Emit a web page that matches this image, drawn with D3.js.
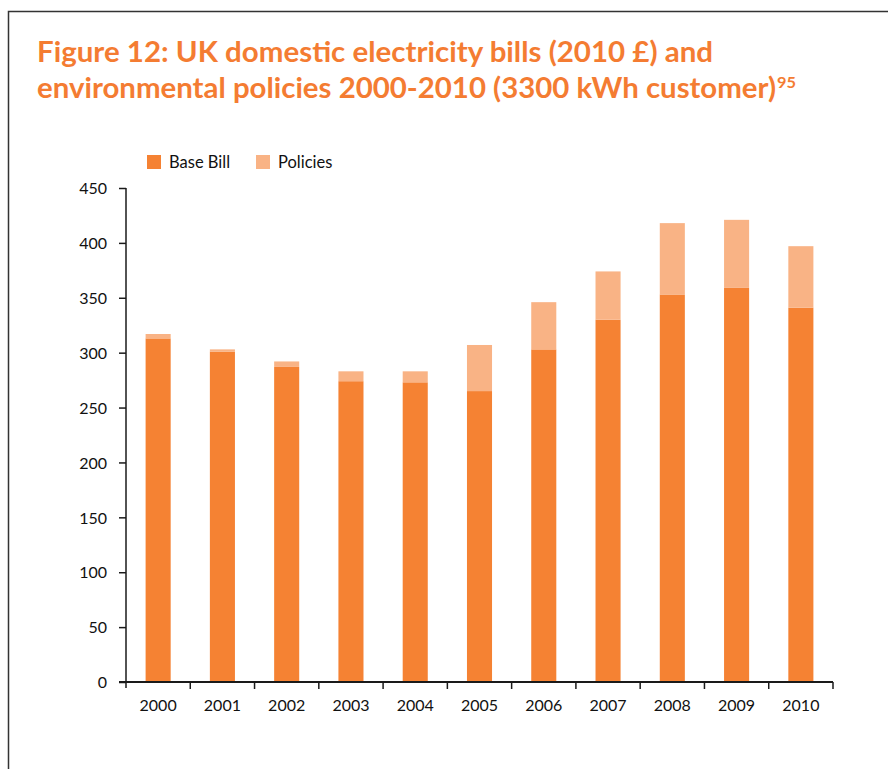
<!DOCTYPE html>
<html lang="en">
<head>
    <title>UK domestic electricity bills</title>
    <script src="https://d3js.org/d3.v7.min.js"></script>
</head>
<style type="text/css">
    body { margin: 0; background: #fff; }
    svg text { font-family: Lato, "Open Sans", sans-serif; fill: #111; }
    .title { font-weight: bold; fill: #f47c32; }
    .axis path, .axis line { stroke: #1a1a1a; }
</style>
<body>
<script>
    // data (2010 £)
    var years = ["2000", "2001", "2002", "2003", "2004", "2005", "2006", "2007", "2008", "2009", "2010"];
    var baseBill = [313, 301, 287, 274, 273, 265, 303, 330, 353, 359, 341];
    var policies = [4, 2, 5, 9, 10, 42, 43, 44, 65, 62, 56];
    var yTicks = [0, 50, 100, 150, 200, 250, 300, 350, 400, 450];

    var colBase = "#f58233";
    var colPolicy = "#f9b385";

    var width = 888, height = 769;

    var svg = d3.select("body").append("svg")
        .attr("width", width)
        .attr("height", height);

    // frame around the figure (left and top edges only visible)
    svg.append("path")
        .attr("d", "M8.5," + height + "V11.5H" + width)
        .attr("fill", "none")
        .attr("stroke", "#333")
        .attr("stroke-width", 1.5);

    // title
    svg.append("text").attr("class", "title")
        .attr("x", 37).attr("y", 62)
        .attr("font-size", 28)
        .attr("textLength", 676).attr("lengthAdjust", "spacingAndGlyphs")
        .text("Figure 12: UK domestic electricity bills (2010 £) and");
    svg.append("text").attr("class", "title")
        .attr("x", 37).attr("y", 98)
        .attr("font-size", 28)
        .attr("textLength", 739).attr("lengthAdjust", "spacingAndGlyphs")
        .text("environmental policies 2000-2010 (3300 kWh customer)");
    svg.append("text").attr("class", "title")
        .attr("x", 777).attr("y", 88)
        .attr("font-size", 16)
        .attr("textLength", 19).attr("lengthAdjust", "spacingAndGlyphs")
        .text("95");

    // scales
    var x = d3.scaleBand()
        .domain(years)
        .range([126, 833])
        .paddingInner(0.61)
        .paddingOuter(0.305);

    var y = d3.scaleLinear()
        .domain([0, 450])
        .range([682, 188]);

    // stacked bars
    var stackData = years.map(function(yr, i) {
        return { year: yr, base: baseBill[i], policy: policies[i] };
    });
    var series = d3.stack().keys(["base", "policy"])(stackData);
    var colours = { base: colBase, policy: colPolicy };

    svg.append("g").selectAll("g")
        .data(series)
        .enter().append("g")
        .attr("fill", function(s) { return colours[s.key]; })
        .selectAll("rect")
        .data(function(s) { return s; })
        .enter().append("rect")
        .attr("x", function(d) { return x(d.data.year); })
        .attr("width", x.bandwidth())
        .attr("y", function(d) { return y(d[1]); })
        .attr("height", function(d) { return y(d[0]) - y(d[1]); });

    // y axis
    var yAxis = svg.append("g").attr("class", "axis")
        .attr("transform", "translate(126,0)")
        .call(d3.axisLeft(y).tickValues(yTicks).tickSize(7).tickSizeOuter(0));
    yAxis.select(".domain").attr("stroke-width", 1.5).attr("d", "M0,188V688");
    yAxis.selectAll("line").attr("stroke-width", 1.5);
    yAxis.selectAll("text").attr("font-size", 16).attr("x", -19).attr("dy", "0.36em");

    // x axis: ticks at category boundaries
    var xAxis = svg.append("g").attr("class", "axis")
        .attr("transform", "translate(0,682)");
    xAxis.append("line")
        .attr("x1", 119).attr("x2", 833)
        .attr("stroke-width", 2);
    xAxis.selectAll(".tick")
        .data(years)
        .enter().append("line")
        .attr("x1", function(d, i) { return x.range()[0] + x.step() * (i + 1); })
        .attr("x2", function(d, i) { return x.range()[0] + x.step() * (i + 1); })
        .attr("y1", 0).attr("y2", 7)
        .attr("stroke-width", 1.5);
    xAxis.selectAll("text")
        .data(years)
        .enter().append("text")
        .attr("x", function(d) { return x(d) + x.bandwidth() / 2; })
        .attr("y", 29)
        .attr("text-anchor", "middle")
        .attr("font-size", 16)
        .text(function(d) { return d; });

    // legend
    var legend = svg.append("g").selectAll("g")
        .data([["Base Bill", colBase], ["Policies", colPolicy]])
        .enter().append("g")
        .attr("transform", function(d, i) { return "translate(" + (147 + i * 109) + ",155)"; });
    legend.append("rect")
        .attr("width", 14).attr("height", 14)
        .attr("fill", function(d) { return d[1]; });
    legend.append("text")
        .attr("x", 22).attr("y", 13)
        .attr("font-size", 16.5)
        .text(function(d) { return d[0]; });
</script>
</body>
</html>
